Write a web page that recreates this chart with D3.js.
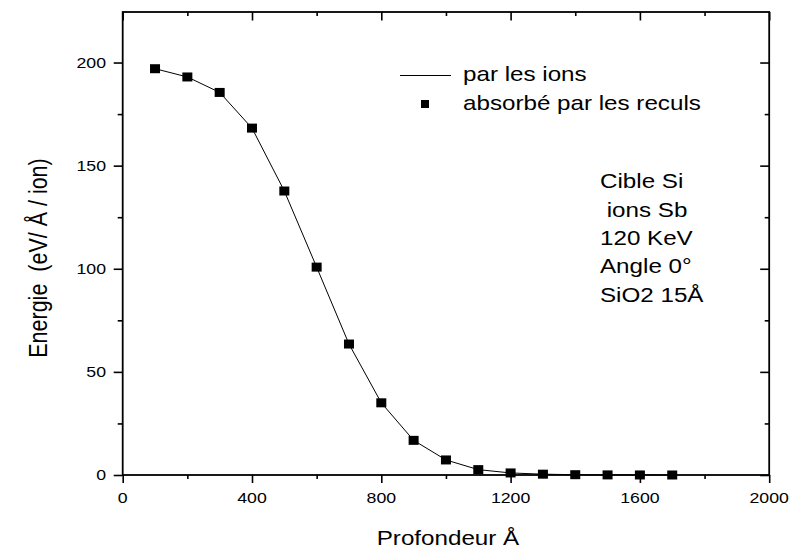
<!DOCTYPE html>
<html>
<head>
<meta charset="utf-8">
<script src="https://cdn.jsdelivr.net/npm/d3@7"></script>
<style>
  html, body { margin: 0; padding: 0; background: #fff; }
  svg { display: block; }
  text { font-family: "Liberation Sans", Arial, sans-serif; fill: #000; }
</style>
</head>
<body>
<svg id="chart" width="790" height="554"></svg>
<script>
// ---- data ----
const depth = [100, 200, 300, 400, 500, 600, 700, 800, 900, 1000, 1100, 1200, 1300, 1400, 1500, 1600, 1700];
const energyRecoils = [197, 193, 185.5, 168.2, 137.7, 100.8, 63.5, 35.0, 16.8, 7.3, 2.6, 1.0, 0.4, 0.15, 0.05, 0.02, 0.0];
const xMajorTicks = [0, 400, 800, 1200, 1600, 2000];
const xMinorTicks = [200, 600, 1000, 1400, 1800];
const yMajorTicks = [0, 50, 100, 150, 200];
const yMinorTicks = [25, 75, 125, 175];
const legendLabels = ["par les ions", "absorbé par les reculs"];
const noteLines = ["Cible Si", " ions Sb", "120 KeV", "Angle 0°", "SiO2 15Å"];
const xTitle = "Profondeur Å";
const yTitle = "Energie  (eV/ Å / ion)";

// ---- layout ----
const L = 122.7, R = 769.2, T = 12, B = 475;
const SX = 1.18; // horizontal stretch of glyphs in the original
const svg = d3.select("#chart");

const x = d3.scaleLinear().domain([0, 2000]).range([L, R]);
const y = d3.scaleLinear().domain([0, 224.5]).range([B, T]);

function stext(str, px, py, size, anchor) {
  return svg.append("text")
    .attr("transform", `translate(${px},${py}) scale(${SX},1)`)
    .attr("text-anchor", anchor || "start")
    .style("font-size", size + "px")
    .style("white-space", "pre")
    .text(str);
}

// ---- axes (ticks) ----
const axStyle = g => {
  g.select(".domain").remove();
  g.selectAll("line").attr("stroke", "#000").attr("stroke-width", 1.6);
};
svg.append("g").attr("transform", `translate(0,${B})`)
  .call(d3.axisBottom(x).tickValues(xMajorTicks).tickSize(8).tickFormat("")).call(axStyle);
svg.append("g").attr("transform", `translate(0,${B})`)
  .call(d3.axisBottom(x).tickValues(xMinorTicks).tickSize(4).tickFormat("")).call(axStyle);
svg.append("g").attr("transform", `translate(0,${T})`)
  .call(d3.axisTop(x).tickValues(xMajorTicks).tickSize(-8.5).tickFormat("")).call(axStyle);
svg.append("g").attr("transform", `translate(0,${T})`)
  .call(d3.axisTop(x).tickValues(xMinorTicks).tickSize(-4).tickFormat("")).call(axStyle);
svg.append("g").attr("transform", `translate(${L},0)`)
  .call(d3.axisLeft(y).tickValues(yMajorTicks).tickSize(9).tickFormat("")).call(axStyle);
svg.append("g").attr("transform", `translate(${L},0)`)
  .call(d3.axisLeft(y).tickValues(yMinorTicks).tickSize(5).tickFormat("")).call(axStyle);
svg.append("g").attr("transform", `translate(${R},0)`)
  .call(d3.axisRight(y).tickValues(yMajorTicks).tickSize(-9).tickFormat("")).call(axStyle);
svg.append("g").attr("transform", `translate(${R},0)`)
  .call(d3.axisRight(y).tickValues(yMinorTicks).tickSize(-4.5).tickFormat("")).call(axStyle);

// frame
svg.append("rect")
  .attr("x", L).attr("y", T).attr("width", R - L).attr("height", B - T)
  .attr("fill", "none").attr("stroke", "#000").attr("stroke-width", 1.8);

// tick labels
xMajorTicks.forEach(v => stext(String(v), x(v), 503, 15, "middle"));
yMajorTicks.forEach(v => stext(String(v), 106, y(v) + 5.4, 15, "end"));

// axis titles
stext(xTitle, (L + R) / 2 + 2, 545, 20.5, "middle");
svg.append("text")
  .attr("transform", `translate(46.5,258) rotate(-90) scale(1,${SX})`)
  .attr("text-anchor", "middle")
  .style("font-size", "21.5px")
  .style("white-space", "pre")
  .text(yTitle);

// ---- data ----
const pts = depth.map((d, i) => [d, energyRecoils[i]]);
svg.append("path")
  .datum(pts)
  .attr("fill", "none").attr("stroke", "#000").attr("stroke-width", 1)
  .attr("d", d3.line().x(d => x(d[0])).y(d => y(d[1])));

const MW = 10, MH = 9;
svg.append("g").selectAll("rect").data(pts).join("rect")
  .attr("x", d => x(d[0]) - MW / 2).attr("y", d => y(d[1]) - MH / 2)
  .attr("width", MW).attr("height", MH).attr("fill", "#000");

// ---- legend ----
svg.append("line").attr("x1", 400).attr("x2", 451).attr("y1", 75.5).attr("y2", 75.5)
  .attr("stroke", "#000").attr("stroke-width", 1);
stext(legendLabels[0], 463, 81, 20.5, "start");
svg.append("rect").attr("x", 425 - 4).attr("y", 104 - 4).attr("width", 8).attr("height", 8).attr("fill", "#000");
stext(legendLabels[1], 463, 109.5, 20.5, "start");

// ---- annotation ----
noteLines.forEach((s, i) => stext(s, 600, 188.3 + i * 28.35, 20.5, "start"));
</script>
</body>
</html>
